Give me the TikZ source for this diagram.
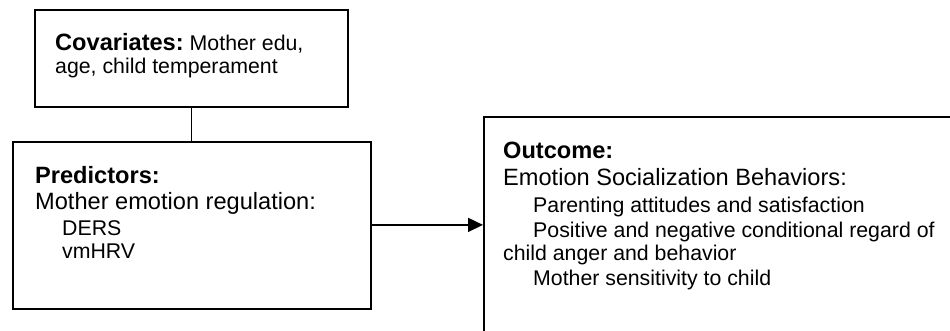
\documentclass[tikz,border=0pt]{standalone}
\usepackage{fontspec}
\setmainfont{Liberation Sans}
\usetikzlibrary{arrows.meta}
\newcommand{\bigsz}{\fontsize{23.6}{28}\selectfont}
\newcommand{\smallsz}{\fontsize{21.3}{25}\selectfont}
\tikzset{
  box/.style={draw, line width=1.8pt, rectangle, inner sep=0pt, anchor=north west},
  txt/.style={inner sep=0pt, anchor=base west},
  head/.style={txt, font=\bigsz\bfseries},
  main/.style={txt, font=\bigsz},
  item/.style={txt, font=\smallsz},
  link/.style={line width=1.6pt},
}
\begin{document}
\begin{tikzpicture}[x=1pt, y=-1pt]
  \useasboundingbox (0,0) rectangle (950,330);
  \clip (0,0) rectangle (950,330);
  \fill[white] (0,0) rectangle (950,330);

  % boxes
  \node[box, minimum width=313pt, minimum height=97pt] (cov) at (34,9) {};
  \node[box, minimum width=358pt, minimum height=167pt] (pred) at (12,141) {};
  \node[box, minimum width=490pt, minimum height=240pt] (out) at (483,116) {};

  % covariates text
  \node[txt] (covA) at (55,50) {{\bigsz\bfseries Covariates:}\hspace{6pt}{\smallsz Mother edu,}};
  \node[item] (covB) at (55,73) {age, child temperament};

  % predictors text
  \node[head] (predA) at (35,183) {Predictors:};
  \node[main] (predB) at (35,209) {Mother emotion regulation:};
  \node[item] (predC) at (62,235) {DERS};
  \node[item] (predD) at (62,258) {vmHRV};

  % outcome text
  \node[head] (outA) at (503,158) {Outcome:};
  \node[main] (outB) at (503,185) {Emotion Socialization Behaviors:};
  \node[item] (outC) at (533,212) {Parenting attitudes and satisfaction};
  \node[item] (outD) at (533,237) {Positive and negative conditional regard of};
  \node[item] (outE) at (503,260) {child anger and behavior};
  \node[item] (outF) at (533,285) {Mother sensitivity to child};

  % connectors
  \draw[link] (cov.south) -- (cov.south |- pred.north);
  \draw[link, -{Triangle[length=15pt, width=14pt]}]
    ([yshift=0.5pt]pred.east) -- ([yshift=0.5pt]pred.east -| out.west);
\end{tikzpicture}
\end{document}
